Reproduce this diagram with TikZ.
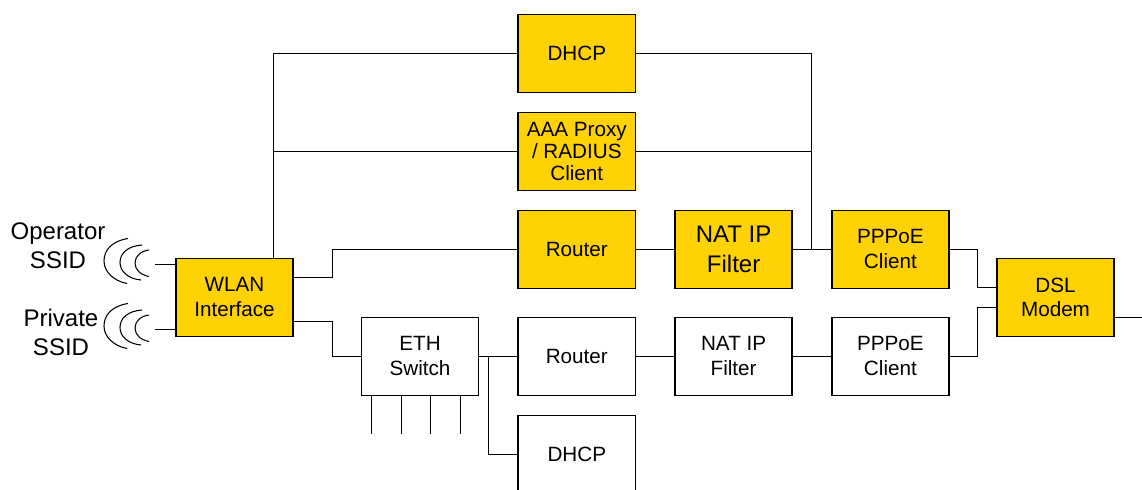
\documentclass[tikz,border=0pt]{standalone}
\usepackage{fontspec}
\setmainfont{Liberation Sans}
\usetikzlibrary{positioning}
\definecolor{boxgold}{HTML}{FFD204}
\tikzset{basic/.style={draw,line width=1.2pt,outer sep=0pt,minimum width=88pt,minimum height=58.5pt,inner sep=0pt,align=center,font=\fontsize{15.5}{18.5}\selectfont}}
\tikzset{gold/.style={basic,fill=boxgold}}
\tikzset{plainbox/.style={basic,fill=white}}
\tikzset{wire/.style={line width=0.9pt}}
\tikzset{wave/.style={line width=0.8pt}}
\tikzset{ssid/.style={align=center,inner sep=0pt,font=\fontsize{18}{21.75}\selectfont}}

\begin{document}
\begin{tikzpicture}[x=0.75pt,y=-0.75pt,node distance=15pt and 29.6pt]
        \clip (0,0) rectangle (1142,489);
        \fill[white] (0,0) rectangle (1142,489);
        \node[gold] (dhcp) at (576.8,53.3) {DHCP};
        \node[gold,below=of dhcp,font=\fontsize{15.5}{16.5}\selectfont] (aaa) {AAA Proxy\\/ RADIUS\\Client};
        \node[gold,below=of aaa] (router) {Router};
        \node[gold,right=of router,font=\fontsize{18}{22.5}\selectfont] (nat) {NAT IP\\Filter};
        \node[gold,right=of nat] (pppoe) {PPPoE\\Client};
        \node[gold] (dsl) at (1055.5,297.3) {DSL\\Modem};
        \node[gold] (wlan) at (234.5,297.3) {WLAN\\Interface};
        \node[plainbox] (router2) at (576.8,356.3) {Router};
        \node[plainbox,left=of router2] (eth) {ETH\\Switch};
        \node[plainbox,right=of router2] (nat2) {NAT IP\\Filter};
        \node[plainbox,right=of nat2] (pppoe2) {PPPoE\\Client};
        \node[plainbox,below=of router2] (dhcp2) {DHCP};
        \node[ssid] (operator) at (58,245.5) {Operator\\SSID};
        \node[ssid] (private) at (61,332) {Private\\SSID};
        % wlan to the upper boxes
        \coordinate (wlantop) at (273.5,258);
        \draw[wire] (wlantop) |- (dhcp.west);
        \draw[wire] (wlantop) |- (aaa.west);
        \coordinate (tap) at (811.5,249);
        \draw[wire] (dhcp.east) -| (tap);
        \draw[wire] (aaa.east) -| (tap);
        % upper path
        \coordinate (bendup) at (332.5,277.5);
        \draw[wire] (bendup -| wlan.east) -- (bendup) |- (router.west);
        \draw[wire] (router) -- (nat);
        \draw[wire] (nat) -- (pppoe);
        \coordinate (dslup) at (977.5,287.5);
        \draw[wire] (pppoe.east) -| (dslup) -- (dslup -| dsl.west);
        % lower path
        \coordinate (benddown) at (332.5,321.5);
        \draw[wire] (benddown -| wlan.east) -- (benddown) |- (eth.west);
        \draw[wire] (eth) -- (router2);
        \draw[wire] (router2) -- (nat2);
        \draw[wire] (nat2) -- (pppoe2);
        \coordinate (dsldown) at (977.5,307.5);
        \draw[wire] (pppoe2.east) -| (dsldown) -- (dsldown -| dsl.west);
        \coordinate (split) at (488.5,356.3);
        \draw[wire] (split) |- (dhcp2.west);
        \coordinate (wan) at (1142,317.5);
        \draw[wire] (wan -| dsl.east) -- (wan);
        % switch ports
        \foreach \portx in {371.5,401.5,430.5,460.5} {
            \coordinate (port) at (\portx,434);
            \draw[wire] (port |- eth.south) -- (port);
        }
        % antennas
        \foreach \name/\dy/\stub in {opwave/0/264.5,prwave/65/329.5} {
            \coordinate (\name) at (155,\stub);
            \draw[wire] (\name) -- (\name -| wlan.west);
            \begin{scope}[yshift=-\dy*0.75pt]
                \draw[wave] (128,238.5) .. controls (112,241) and (104,250) .. (104,261) .. controls (104,272) and (114,281) .. (127,283.5);
                \draw[wave] (142,245) .. controls (128,246) and (120,253) .. (120,262.5) .. controls (120,272) and (129,279) .. (141,280);
                \draw[wave] (149,250) .. controls (141,251) and (135,256) .. (135,263) .. controls (135,270) and (141,275) .. (149,276.5);
            \end{scope}
        }
\end{tikzpicture}
\end{document}
